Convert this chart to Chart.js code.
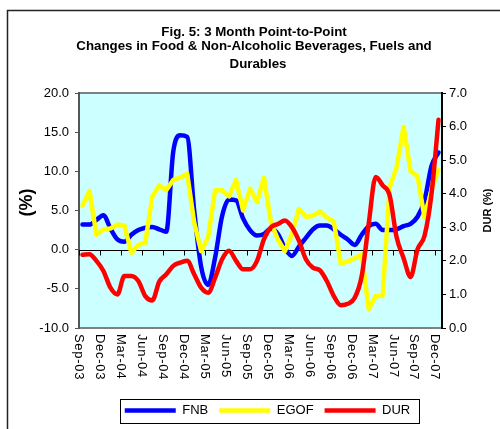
<!DOCTYPE html>
<html>
<head>
<meta charset="utf-8">
<script src="https://cdn.jsdelivr.net/npm/chart.js@4"></script>
<style>
  html, body { margin: 0; padding: 0; background: #fff; }
  canvas { display: block; }
</style>
</head>
<body>
<canvas id="grafico" width="500" height="429"></canvas>
<script>
// --- Datos (variación 3 meses, %) ---
const meses = [
  'Sep-03', 'Oct-03', 'Nov-03', 'Dec-03',
  'Jan-04', 'Feb-04', 'Mar-04', 'Apr-04', 'May-04', 'Jun-04', 'Jul-04', 'Aug-04', 'Sep-04', 'Oct-04', 'Nov-04', 'Dec-04',
  'Jan-05', 'Feb-05', 'Mar-05', 'Apr-05', 'May-05', 'Jun-05', 'Jul-05', 'Aug-05', 'Sep-05', 'Oct-05', 'Nov-05', 'Dec-05',
  'Jan-06', 'Feb-06', 'Mar-06', 'Apr-06', 'May-06', 'Jun-06', 'Jul-06', 'Aug-06', 'Sep-06', 'Oct-06', 'Nov-06', 'Dec-06',
  'Jan-07', 'Feb-07', 'Mar-07', 'Apr-07', 'May-07', 'Jun-07', 'Jul-07', 'Aug-07', 'Sep-07', 'Oct-07', 'Nov-07', 'Dec-07'
];

const fnb = [
  3.2, 3.2, 3.8, 4.4, 2.7, 1.3, 1.0, 1.9, 2.5, 2.8,
  2.9, 2.6, 2.3, 12.5, 14.6, 14.4, 5.0, -2.2, -4.5, -1.0,
  4.3, 6.4, 6.3, 4.0, 2.5, 1.8, 2.0, 2.7, 2.0, 0.2,
  -0.8, 0.4, 1.5, 2.6, 3.1, 3.1, 2.6, 1.9, 1.3, 0.6,
  1.9, 3.0, 3.3, 2.5, 2.5, 2.6, 3.0, 3.3, 4.2, 6.3,
  10.7, 12.4
];

const egof = [
  5.6, 7.5, 1.9, 2.6, 2.7, 3.2, 3.1, -0.4, 0.6, 0.9,
  6.8, 8.2, 7.6, 8.9, 9.2, 9.7, 3.5, -0.2, 1.6, 7.6,
  7.6, 6.8, 8.9, 5.0, 7.8, 6.1, 9.2, 3.5, 1.3, -0.2,
  2.0, 5.2, 4.2, 4.3, 4.9, 4.1, 3.6, -1.8, -1.5, -1.1,
  -0.6, -7.6, -5.9, -5.9, 8.0, 10.5, 15.7, 10.0, 9.4, 4.1,
  7.6, 10.2
];

// DUR va en el eje derecho
const dur = [
  2.18, 2.2, 2.0, 1.7, 1.2, 1.0, 1.55, 1.55, 1.4, 0.95,
  0.82, 1.38, 1.6, 1.85, 1.95, 2.0, 1.6, 1.2, 1.05, 1.5,
  2.05, 2.3, 2.0, 1.75, 1.75, 2.0, 2.65, 3.0, 3.1, 3.2,
  3.0, 2.6, 2.05, 1.8, 1.72, 1.4, 0.95, 0.68, 0.72, 0.9,
  1.55, 3.1, 4.5, 4.25, 3.95, 2.7, 2.08, 1.52, 2.35, 2.75,
  4.0, 6.2
];

const titulo = [
  'Fig. 5: 3 Month Point-to-Point',
  'Changes in Food & Non-Alcoholic Beverages, Fuels and',
  'Durables'
];

const fuente = "'Liberation Sans', Arial, sans-serif";

// --- Plugin: fondo, marco, línea del cero y textos ---
const decorado = {
  id: 'decorado',
  beforeDraw(chart) {
    const { ctx, chartArea: a } = chart;
    ctx.save();
    ctx.fillStyle = '#fff';
    ctx.fillRect(0, 0, chart.width, chart.height);
    // borde exterior (solo arriba e izquierda se ven)
    ctx.strokeStyle = '#222';
    ctx.lineWidth = 1.5;
    ctx.beginPath();
    ctx.moveTo(7.5, chart.height);
    ctx.lineTo(7.5, 10.5);
    ctx.lineTo(chart.width, 10.5);
    ctx.stroke();
    // área del gráfico
    ctx.fillStyle = '#CCFFFF';
    ctx.fillRect(a.left, a.top, a.width, a.height);
    ctx.strokeStyle = '#808080';
    ctx.lineWidth = 2;
    ctx.strokeRect(a.left, a.top, a.width, a.height);
    ctx.restore();
  },
  beforeDatasetsDraw(chart) {
    const { ctx, chartArea: a, scales } = chart;
    const y0 = Math.round(scales.y.getPixelForValue(0)) + 0.5;
    const paso = scales.x.getPixelForValue(1) - scales.x.getPixelForValue(0);
    ctx.save();
    ctx.strokeStyle = '#000';
    ctx.lineWidth = 1;
    ctx.beginPath();
    ctx.moveTo(a.left, y0);
    ctx.lineTo(a.right, y0);
    meses.forEach((m, i) => {
      if (i % 3) return;
      const x = Math.round(scales.x.getPixelForValue(i) - paso / 2) + 0.5;
      ctx.moveTo(x, y0);
      ctx.lineTo(x, y0 + 5);
    });
    ctx.stroke();
    ctx.restore();
  },
  afterDraw(chart) {
    const { ctx, chartArea: a, scales } = chart;
    const paso = scales.x.getPixelForValue(1) - scales.x.getPixelForValue(0);
    ctx.save();
    ctx.fillStyle = '#000';

    // título
    ctx.font = 'bold 13.3px ' + fuente;
    ctx.textAlign = 'center';
    ctx.textBaseline = 'middle';
    ctx.fillText(titulo[0], 254, 32.5);
    ctx.fillText(titulo[1], 254, 46.5);
    ctx.fillText(titulo[2], 258, 64.5);

    // etiquetas del eje X (giradas, se leen de arriba a abajo)
    ctx.font = '13px ' + fuente;
    ctx.textAlign = 'left';
    if ('letterSpacing' in ctx) ctx.letterSpacing = '0.7px';
    meses.forEach((m, i) => {
      if (i % 3) return;
      const x = scales.x.getPixelForValue(i) - paso / 2;
      ctx.save();
      ctx.translate(x, a.bottom + 6);
      ctx.rotate(Math.PI / 2);
      ctx.fillText(m, 0, 0);
      ctx.restore();
    });
    if ('letterSpacing' in ctx) ctx.letterSpacing = '0px';

    // títulos de los ejes
    ctx.textAlign = 'center';
    ctx.save();
    ctx.font = 'bold 18px ' + fuente;
    ctx.translate(27, (a.top + a.bottom) / 2 - 8);
    ctx.rotate(-Math.PI / 2);
    ctx.fillText('(%)', 0, 0);
    ctx.restore();
    ctx.save();
    ctx.font = 'bold 11px ' + fuente;
    ctx.translate(488, (a.top + a.bottom) / 2);
    ctx.rotate(-Math.PI / 2);
    ctx.fillText('DUR (%)', 0, 0);
    ctx.restore();

    // recuadro de la leyenda
    const cajas = chart.legend.legendHitBoxes;
    if (cajas && cajas.length) {
      const p = cajas[0], u = cajas[cajas.length - 1];
      const izq = Math.round(p.left - 5) + 0.5;
      const der = Math.round(u.left + u.width + 9) + 0.5;
      const arr = Math.round(p.top - 5) + 0.5;
      const aba = Math.round(p.top + p.height + 6) + 0.5;
      ctx.strokeStyle = '#000';
      ctx.lineWidth = 1;
      ctx.strokeRect(izq, arr, der - izq, aba - arr);
    }
    ctx.restore();
  }
};

const serie = (label, data, color, eje, orden, suave) => ({
  label: label,
  data: data,
  borderColor: color,
  backgroundColor: color,
  borderWidth: 4.5,
  borderCapStyle: 'round',
  borderJoinStyle: 'round',
  pointRadius: 0,
  yAxisID: eje,
  order: orden,
  cubicInterpolationMode: suave ? 'monotone' : 'default',
  tension: 0
});

new Chart(document.getElementById('grafico'), {
  type: 'line',
  data: {
    labels: meses,
    datasets: [
      serie('FNB', fnb, '#0000FF', 'y', 3, true),
      serie('EGOF', egof, '#FFFF00', 'y', 2, false),
      serie('DUR', dur, '#FF0000', 'y1', 1, true)
    ]
  },
  options: {
    responsive: false,
    animation: false,
    devicePixelRatio: 1,
    layout: { padding: { top: 93, left: 35, right: 0, bottom: 2 } },
    scales: {
      x: {
        offset: true,
        grid: { display: false },
        border: { display: false },
        ticks: { display: false },
        afterFit: (s) => { s.height = 65; }
      },
      y: {
        position: 'left',
        min: -10,
        max: 20,
        ticks: {
          stepSize: 5,
          color: '#000',
          padding: 6,
          font: { family: fuente, size: 13 },
          callback: (v) => v.toFixed(1)
        },
        grid: { drawOnChartArea: false, tickLength: 4, color: '#555' },
        border: { color: '#555', width: 2 },
        afterFit: (s) => { s.width = 44; }
      },
      y1: {
        position: 'right',
        min: 0,
        max: 7,
        ticks: {
          stepSize: 1,
          color: '#000',
          padding: 3,
          font: { family: fuente, size: 13 },
          callback: (v) => v.toFixed(1)
        },
        grid: { drawOnChartArea: false, tickLength: 4, color: '#000' },
        border: { color: '#000', width: 2 },
        afterFit: (s) => { s.width = 58; }
      }
    },
    plugins: {
      tooltip: { enabled: false },
      legend: {
        position: 'bottom',
        labels: {
          usePointStyle: true,
          pointStyle: 'line',
          pointStyleWidth: 51,
          color: '#000',
          padding: 11,
          font: { family: fuente, size: 13 },
          sort: (a, b) => a.datasetIndex - b.datasetIndex
        }
      }
    }
  },
  plugins: [decorado]
});
</script>
</body>
</html>
